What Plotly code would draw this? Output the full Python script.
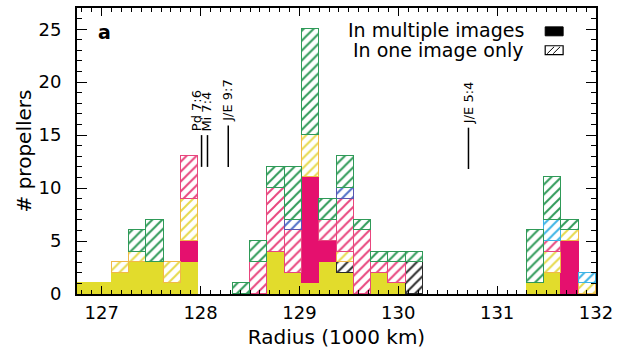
import plotly.graph_objects as go

# ---------------- data ----------------
bin_start = 126.75          # 1000 km
bin_width = 0.175           # 1000 km
# counts per radial bin (30 bins from 126.75 to 132.0)
multi_yellow  = [1,1,2,3,3,1,3,0,0,0, 0,4,2,1,3,2,0,2,1,0, 0,0,0,0,0,0,1,2,0,0]
multi_magenta = [0,0,0,0,0,0,2,0,0,0, 0,0,0,10,2,0,0,0,0,0, 0,0,0,0,0,0,0,0,5,0]
one_black     = [0,0,0,0,0,0,0,0,0,0, 0,0,0,0,0,1,0,0,0,3, 0,0,0,0,0,0,0,0,0,0]
one_yellow    = [0,0,1,1,0,2,4,0,0,0, 0,0,0,4,0,1,0,0,0,0, 0,0,0,0,0,0,0,2,1,1]
one_magenta   = [0,0,0,0,0,0,4,0,0,0, 3,6,4,0,2,5,6,1,2,0, 0,0,0,0,0,0,0,1,0,0]
one_blue      = [0,0,0,0,0,0,0,0,0,0, 0,0,1,0,0,1,0,0,0,0, 0,0,0,0,0,0,0,0,0,0]
one_cyan      = [0,0,0,0,0,0,0,0,0,0, 0,0,0,0,0,0,0,0,0,0, 0,0,0,0,0,0,0,2,0,1]
one_green     = [0,0,0,2,4,0,0,0,0,1, 2,2,5,10,2,3,1,1,1,1, 0,0,0,0,0,0,5,4,1,0]

res_names = ["Pd 7:6", "Mi 7:4", "J/E 9:7", "J/E 5:4"]
res_x     = [128.01, 128.07, 128.28, 130.71]
res_y_low = [12.0, 12.0, 12.0, 11.8]
res_y_top = [15.0, 15.0, 15.9, 15.7]

x_ticks = [127, 128, 129, 130, 131, 132]
y_ticks = [0, 5, 10, 15, 20, 25]

# ---------------- figure ----------------
n = len(multi_yellow)
centers = [bin_start + bin_width * (j + 0.5) for j in range(n)]

def nz(v):
    return [c if c else None for c in v]

series = [
    (multi_yellow,  "#e2dc2c", "#e2dc2c", False),
    (multi_magenta, "#e5106e", "#e5106e", False),
    (one_black,     "#2a2a2a", "#2a2a2a", True),
    (one_yellow,    "#e6da4c", "#f0b848", True),
    (one_magenta,   "#e8467e", "#e8467e", True),
    (one_blue,      "#4f6fc8", "#5a55b0", True),
    (one_cyan,      "#3cb4e6", "#3cb4e6", True),
    (one_green,     "#2f9a58", "#2f9a58", True),
]

fig = go.Figure()
for vals, col, lcol, hatched in series:
    marker = dict(color=col if not hatched else "white",
                  line=dict(color=lcol, width=1.3))
    if hatched:
        marker["pattern"] = dict(shape="/", fgcolor=col, bgcolor="white",
                                 size=7, solidity=0.28, fillmode="replace")
    fig.add_trace(go.Bar(x=centers, y=nz(vals), width=bin_width,
                         marker=marker, showlegend=False, hoverinfo="skip"))

FONT = "DejaVu Sans"
fig.update_layout(
    barmode="stack", bargap=0,
    width=619, height=358,
    margin=dict(l=77, r=21, t=6, b=64),
    plot_bgcolor="white", paper_bgcolor="white",
    font=dict(family=FONT, size=18, color="black"),
)
fig.update_xaxes(
    range=[bin_start, 132.0], tickvals=x_ticks, ticks="inside", ticklen=8,
    tickwidth=1.3, tickcolor="black", showgrid=False, zeroline=False,
    showline=True, linecolor="black", linewidth=1.8, mirror="ticks",
    minor=dict(dtick=0.1, ticks="inside", ticklen=4, tickcolor="black", tickwidth=1),
    ticklabelstandoff=1, tickfont=dict(size=18),
    title=dict(text="Radius (1000 km)", font=dict(size=20), standoff=8),
)
fig.update_yaxes(
    range=[0, 27], tickvals=y_ticks, ticks="inside", ticklen=10,
    tickwidth=1.3, tickcolor="black", showgrid=False, zeroline=False,
    showline=True, linecolor="black", linewidth=1.8, mirror="ticks",
    minor=dict(dtick=1, ticks="inside", ticklen=5, tickcolor="black", tickwidth=1),
    ticklabelstandoff=10, tickfont=dict(size=18),
    title=dict(text="# propellers", font=dict(size=20), standoff=2),
)

# resonance markers
shifts = [-5, -1, -1, 0]
for name, xr, y0, y1, sh in zip(res_names, res_x, res_y_low, res_y_top, shifts):
    fig.add_shape(type="line", x0=xr, x1=xr, y0=y0, y1=y1, xref="x", yref="y",
                  line=dict(color="black", width=1.5))
    fig.add_annotation(x=xr, y=y1, xref="x", yref="y", text=name, showarrow=False,
                       textangle=-90, xanchor="center", yanchor="bottom",
                       xshift=sh, yshift=2, font=dict(size=13, family=FONT))

def px2paper(px, py):
    return (px - 77) / 521.0, (294 - py) / 288.0

# panel label
ax_, ay_ = px2paper(105, 30)
fig.add_annotation(x=ax_, y=ay_, xref="paper", yref="paper", text="<b>a</b>",
                   showarrow=False, xanchor="center", yanchor="middle",
                   font=dict(size=19, family=FONT))

# manual legend
lx, ly1 = px2paper(528, 28)
_, ly2 = px2paper(528, 48)
fig.add_annotation(x=lx, y=ly1, xref="paper", yref="paper", text="In multiple images",
                   showarrow=False, xanchor="right", yanchor="middle", font=dict(size=19))
fig.add_annotation(x=lx, y=ly2, xref="paper", yref="paper", text="In one image only",
                   showarrow=False, xanchor="right", yanchor="middle", font=dict(size=19))
bx0, by0 = px2paper(547, 34)
bx1, by1 = px2paper(565, 25)
fig.add_shape(type="rect", x0=bx0, x1=bx1, y0=by0, y1=by1, xref="paper", yref="paper",
              fillcolor="black", line=dict(color="black", width=1))
hx0, hy0 = px2paper(547, 53)
hx1, hy1 = px2paper(565, 44)
fig.add_shape(type="rect", x0=hx0, x1=hx1, y0=hy0, y1=hy1, xref="paper", yref="paper",
              fillcolor="white", line=dict(color="black", width=1.2))
for a0, a1 in [(549, 556), (555, 562)]:
    p0 = px2paper(a0, 52)
    p1 = px2paper(a1, 45)
    fig.add_shape(type="line", x0=p0[0], y0=p0[1], x1=p1[0], y1=p1[1],
                  xref="paper", yref="paper", line=dict(color="black", width=1))

fig.write_html("out.html")
